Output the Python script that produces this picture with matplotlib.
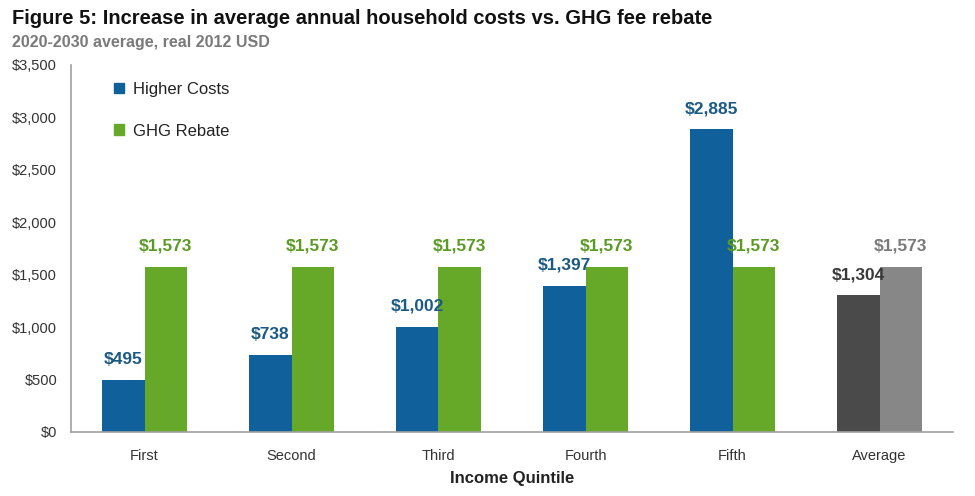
import matplotlib
matplotlib.use("Agg")
import matplotlib.pyplot as plt
import numpy as np
from matplotlib.patches import Patch
from matplotlib import font_manager

names = {f.name for f in font_manager.fontManager.ttflist}
fam = ['Liberation Sans Narrow', 'Liberation Sans', 'DejaVu Sans'] if 'Liberation Sans Narrow' in names else ['Liberation Sans', 'DejaVu Sans']
plt.rcParams['font.family'] = fam

categories = ["First", "Second", "Third", "Fourth", "Fifth", "Average"]
higher_costs = [495, 738, 1002, 1397, 2885, 1304]
ghg_rebate = [1573, 1573, 1573, 1573, 1573, 1573]
yticks = [0, 500, 1000, 1500, 2000, 2500, 3000, 3500]

blue = "#0f609b"
green = "#66a828"
dark = "#4a4a4a"
light = "#878787"
blue_txt = "#1b5a85"
green_txt = "#5c9a26"

fig = plt.figure(figsize=(9.75, 4.96), dpi=100)
ax = fig.add_axes([71/975, 1-432/496, 882/975, 367/496])

x = np.arange(len(categories))
w = 0.286
c1 = [blue]*5 + [dark]
c2 = [green]*5 + [light]
t1 = [blue_txt]*5 + ["#3a3a3a"]
t2 = [green_txt]*5 + ["#7a7a7a"]
ax.bar(x - w/2, higher_costs, w, color=c1)
ax.bar(x + w/2, ghg_rebate, w, color=c2)
for i in range(len(categories)):
    ax.text(x[i] - w/2, higher_costs[i] + 125, f"${higher_costs[i]:,}", ha='center', va='bottom',
            fontsize=12.5, fontweight='bold', color=t1[i])
    ax.text(x[i] + w/2, ghg_rebate[i] + 125, f"${ghg_rebate[i]:,}", ha='center', va='bottom',
            fontsize=12.5, fontweight='bold', color=t2[i])

ax.set_xlim(-0.5, len(categories) - 0.5)
ax.set_ylim(0, 3500)
ax.set_yticks(yticks)
ax.set_yticklabels([f"${v:,}" for v in yticks])
ax.set_xticks(x)
ax.set_xticklabels(categories)
ax.tick_params(axis='both', length=0, labelsize=10.5, colors="#333333")
ax.tick_params(axis='x', pad=12)
ax.tick_params(axis='y', pad=10)
for s in ['top', 'right']:
    ax.spines[s].set_visible(False)
for s in ['left', 'bottom']:
    ax.spines[s].set_color("#a0a0a0")
    ax.spines[s].set_linewidth(1.2)
ax.set_xlabel("Income Quintile", fontsize=12, fontweight='bold', color="#222222", labelpad=6)

handles = [Patch(color=blue), Patch(color=green)]
ax.legend(handles, ["Higher Costs", "GHG Rebate"], loc='upper left', bbox_to_anchor=(0.032, 0.995),
          frameon=False, fontsize=12, handlelength=0.6, handleheight=0.6, labelspacing=1.6,
          handletextpad=0.5, labelcolor="#222222")

fig.text(12/975, 1-18/496, "Figure 5: Increase in average annual household costs vs. GHG fee rebate",
         fontsize=14.5, fontweight='bold', color="#111111", va='center', ha='left')
fig.text(12/975, 1-42/496, "2020-2030 average, real 2012 USD",
         fontsize=11.5, fontweight='bold', color="#7a7a7a", va='center', ha='left')

fig.savefig("out.png", dpi=100)
